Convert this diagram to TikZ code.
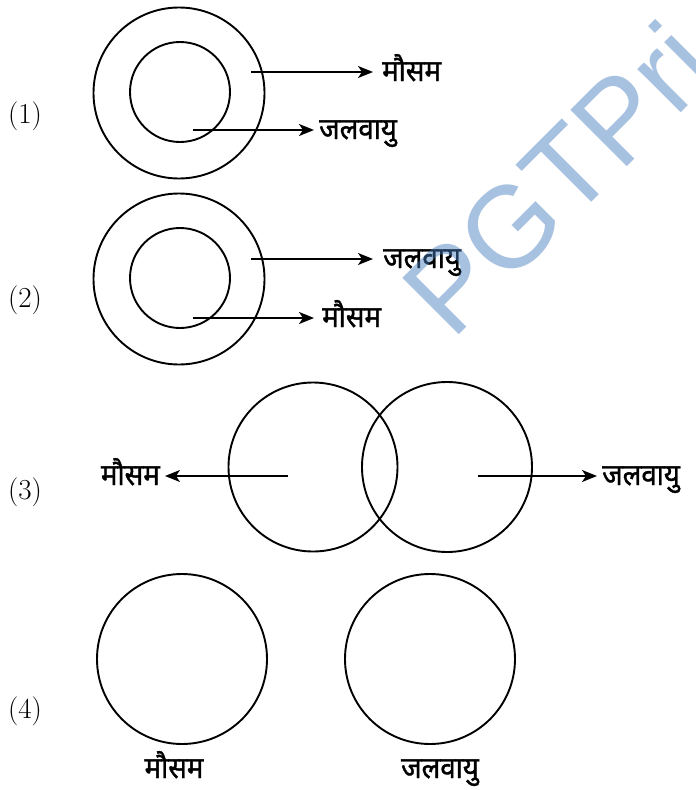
\documentclass[tikz,border=0pt]{standalone}
\usepackage{fontspec}
\newfontfamily\deva[Script=Devanagari,FakeBold=1.2,FakeStretch=0.92]{Noto Sans}
\newfontfamily\wmfont{Liberation Sans}
\usetikzlibrary{arrows.meta}
\definecolor{wmblue}{RGB}{70,125,190}
\begin{document}
\begin{tikzpicture}[x=1pt,y=-1pt,
  ring/.style={draw=black,line width=1.9pt,circle,inner sep=0pt,fill=none},
  ptr/.style={line width=1.9pt,-{Stealth[length=15pt,width=12pt,inset=4pt]}},
  lbl/.style={font=\deva\fontsize{30}{33}\selectfont,inner sep=0pt},
  num/.style={font=\fontsize{29}{32}\selectfont,inner sep=0pt}]
\useasboundingbox (0,0) rectangle (696,790);
\fill[white] (0,0) rectangle (696,790);
% (1)
\node[num] (n1) at (25,116) {(1)};
\node[ring,minimum size=171pt] (o1) at (179,93) {};
\node[ring,minimum size=100pt] (i1) at (180,92) {};
\coordinate (s1a) at (251,72);
\coordinate (e1a) at (373,72);
\coordinate (s1b) at (193,130);
\coordinate (e1b) at (314,130);
\node[lbl,anchor=base west] (t1a) at (382,81) {मौसम};
\node[lbl,anchor=base west] (t1b) at (319,139) {जलवायु};
\draw[ptr] (s1a) -- (e1a);
\draw[ptr] (s1b) -- (e1b);
% (2)
\node[num] (n2) at (25,300) {(2)};
\node[ring,minimum size=171pt] (o2) at (179,279) {};
\node[ring,minimum size=100pt] (i2) at (180,278) {};
\coordinate (s2a) at (251,259);
\coordinate (e2a) at (373,259);
\coordinate (s2b) at (193,318);
\coordinate (e2b) at (314,318);
\node[lbl,anchor=base west] (t2a) at (383,268) {जलवायु};
\node[lbl,anchor=base west] (t2b) at (322,327) {मौसम};
\draw[ptr] (s2a) -- (e2a);
\draw[ptr] (s2b) -- (e2b);
% (3)
\node[num] (n3) at (25,492) {(3)};
\node[ring,minimum size=169pt] (l3) at (313,467) {};
\node[ring,minimum size=170pt] (r3) at (447,467) {};
\coordinate (s3a) at (288,476);
\coordinate (e3a) at (165,476);
\coordinate (s3b) at (478,476);
\coordinate (e3b) at (597,476);
\node[lbl,anchor=base east] (t3a) at (160,485) {मौसम};
\node[lbl,anchor=base west] (t3b) at (602,485) {जलवायु};
\draw[ptr] (s3a) -- (e3a);
\draw[ptr] (s3b) -- (e3b);
% (4)
\node[num] (n4) at (25,711) {(4)};
\node[ring,minimum size=170pt] (l4) at (182,659) {};
\node[ring,minimum size=170pt] (r4) at (430,659) {};
\node[lbl,anchor=base] (t4a) at (174,778) {मौसम};
\node[lbl,anchor=base] (t4b) at (440,778) {जलवायु};
% watermark
\begin{scope}
\clip (0,0) rectangle (696,790);
\node[anchor=base west,rotate=45,inner sep=0pt,text=wmblue,opacity=0.47,
  font=\wmfont\fontsize{116}{120}\selectfont] (wm) at (452,342) {PGTPri};
\end{scope}
\end{tikzpicture}
\end{document}
